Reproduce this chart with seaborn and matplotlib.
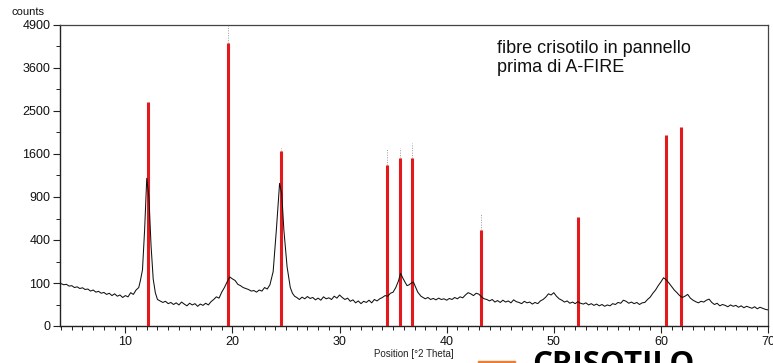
import numpy as np
import matplotlib
matplotlib.use("Agg")
import matplotlib.pyplot as plt
import seaborn as sns
from matplotlib.patches import Rectangle
from matplotlib.ticker import FixedLocator, MultipleLocator

# ---- data ----
pos = [3.9, 4.0, 4.25, 4.5, 4.75, 5.0, 5.25, 5.5, 5.75, 6.0, 6.25, 6.5, 6.75, 7.0, 7.25,
       7.5, 7.75, 8.0, 8.25, 8.5, 8.75, 9.0, 9.25, 9.5, 9.75, 10.0, 10.25, 10.5, 10.75,
       11.0, 11.25, 11.4, 11.6, 11.8, 12.0, 12.2, 12.4, 12.6, 12.8, 13.0, 13.25, 13.5,
       13.75, 14.0, 14.25, 14.5, 14.75, 15.0, 15.25, 15.5, 15.75, 16.0, 16.25, 16.5,
       16.75, 17.0, 17.25, 17.5, 17.75, 18.0, 18.25, 18.5, 18.75, 19.0, 19.25, 19.5,
       19.75, 20.0, 20.25, 20.5, 20.75, 21.0, 21.25, 21.5, 21.75, 22.0, 22.25, 22.5,
       22.75, 23.0, 23.25, 23.5, 23.8, 24.1, 24.4, 24.6, 24.8, 25.1, 25.4, 25.6, 25.8,
       26.0, 26.25, 26.5, 26.75, 27.0, 27.25, 27.5, 27.75, 28.0, 28.25, 28.5, 28.75,
       29.0, 29.25, 29.5, 29.75, 30.0, 30.25, 30.5, 30.75, 31.0, 31.25, 31.5, 31.75,
       32.0, 32.25, 32.5, 32.75, 33.0, 33.25, 33.5, 33.75, 34.0, 34.25, 34.5, 34.75,
       35.0, 35.25, 35.5, 35.7, 35.9, 36.1, 36.3, 36.5, 36.7, 36.9, 37.1, 37.3, 37.6,
       37.8, 38.0, 38.25, 38.5, 38.75, 39.0, 39.25, 39.5, 39.75, 40.0, 40.25, 40.5,
       40.75, 41.0, 41.25, 41.5, 41.75, 42.0, 42.25, 42.5, 42.75, 43.0, 43.25, 43.5,
       43.75, 44.0, 44.25, 44.5, 44.75, 45.0, 45.25, 45.5, 45.75, 46.0, 46.25, 46.5,
       46.75, 47.0, 47.25, 47.5, 47.75, 48.0, 48.25, 48.5, 48.75, 49.0, 49.25, 49.5,
       49.75, 50.0, 50.25, 50.5, 50.75, 51.0, 51.25, 51.5, 51.75, 52.0, 52.25, 52.5,
       52.75, 53.0, 53.25, 53.5, 53.75, 54.0, 54.25, 54.5, 54.75, 55.0, 55.25, 55.5,
       55.75, 56.0, 56.25, 56.5, 56.75, 57.0, 57.25, 57.5, 57.75, 58.0, 58.25, 58.5,
       58.75, 59.0, 59.25, 59.5, 59.75, 60.0, 60.25, 60.5, 60.75, 61.0, 61.25, 61.5,
       61.75, 62.0, 62.25, 62.5, 62.75, 63.0, 63.25, 63.5, 63.75, 64.0, 64.25, 64.5,
       64.75, 65.0, 65.25, 65.5, 65.75, 66.0, 66.25, 66.5, 66.75, 67.0, 67.25, 67.5,
       67.75, 68.0, 68.25, 68.5, 68.75, 69.0, 69.25, 69.5, 69.75, 70.0]
counts = [100, 97, 92, 94, 86, 88, 80, 83, 76, 79, 72, 74, 66, 70, 62,
          65, 58, 61, 54, 58, 50, 56, 48, 52, 44, 50, 46, 60, 54,
          70, 80, 110, 170, 500, 1180, 900, 350, 120, 60, 38, 34, 30,
          33, 27, 30, 25, 29, 24, 31, 26, 22, 28, 24, 27,
          21, 26, 23, 28, 24, 32, 38, 46, 42, 62, 80, 105,
          130, 120, 112, 94, 88, 80, 76, 72, 66, 68, 62, 70,
          66, 80, 74, 92, 160, 500, 1100, 950, 500, 190, 80, 58, 48,
          44, 38, 45, 40, 47, 41, 44, 37, 42, 36, 46, 40,
          43, 38, 48, 42, 52, 44, 38, 42, 33, 37, 29, 34,
          27, 33, 30, 36, 29, 38, 34, 40, 44, 50, 48, 58,
          62, 80, 110, 150, 125, 105, 88, 92, 100, 104, 82, 62, 48,
          44, 40, 44, 38, 41, 37, 42, 38, 40, 36, 41, 38,
          44, 40, 46, 43, 52, 60, 56, 50, 58, 55, 46, 40,
          38, 34, 38, 31, 35, 30, 36, 31, 34, 29, 37, 32,
          30, 27, 33, 29, 31, 26, 30, 27, 34, 38, 45, 56,
          52, 60, 48, 40, 36, 31, 34, 28, 31, 27, 32, 28,
          26, 29, 24, 27, 23, 26, 22, 25, 21, 24, 22, 27,
          25, 30, 28, 36, 33, 28, 31, 27, 30, 25, 29, 30,
          38, 45, 58, 70, 88, 105, 126, 115, 100, 84, 70, 60,
          50, 44, 48, 54, 42, 36, 32, 29, 33, 31, 36, 39,
          30, 25, 28, 22, 25, 23, 20, 24, 21, 23, 19, 22,
          18, 21, 19, 17, 20, 16, 19, 17, 15, 14]

ref_pos = [12.1, 19.6, 24.5, 34.4, 35.6, 36.8, 43.2, 52.3, 60.5, 61.9]
ref_int = [2714, 4330, 1650, 1400, 1527, 1527, 498, 642, 1972, 2142]

dot_pos = [19.6, 24.5, 34.4, 35.6, 36.8, 43.2]
dot_top = [4900, 1714, 1714, 1714, 1812, 690]

y_ticks = [0, 100, 400, 900, 1600, 2500, 3600, 4900]
y_minor = [25, 225, 625, 1225, 2025, 3025, 4225]
x_ticks = [10, 20, 30, 40, 50, 60, 70]

title_text = "fibre crisotilo in pannello\nprima di A-FIRE"
x_label = "Position [°2 Theta]"
y_label = "counts"
bottom_text = "CRISOTILO"

# ---- figure ----
sns.set_style("white")
plt.rcParams["font.family"] = ["Liberation Sans", "DejaVu Sans"]

fig = plt.figure(figsize=(7.73, 3.63), dpi=100)
ax = fig.add_axes([60 / 773, 1 - 326 / 363, 708 / 773, 301 / 363])

fwd = lambda v: np.sqrt(np.clip(v, 0, None))
inv = lambda v: np.square(v)
ax.set_yscale("function", functions=(fwd, inv))

ax.vlines(ref_pos, 0, ref_int, colors="#e3191c", linewidth=2.2, zorder=3)
ref_map = dict(zip(ref_pos, ref_int))
for p, t in zip(dot_pos, dot_top):
    ax.vlines(p, ref_map[p], t, colors="#999999", linewidth=0.7,
              linestyles=(0, (1, 1.5)), zorder=2)

sns.lineplot(x=pos, y=counts, ax=ax, color="#111111", linewidth=0.75, zorder=4)

ax.set_xlim(3.9, 70)
ax.set_ylim(0, 4900)
ax.yaxis.set_major_locator(FixedLocator(y_ticks))
ax.yaxis.set_minor_locator(FixedLocator(y_minor))
ax.set_yticklabels([str(t) for t in y_ticks])
ax.xaxis.set_major_locator(FixedLocator(x_ticks))
ax.xaxis.set_minor_locator(MultipleLocator(1))
ax.set_xticklabels([str(t) for t in x_ticks])

ax.tick_params(axis="both", which="major", direction="out", length=5, width=0.8,
               labelsize=9, color="#222222", labelcolor="#111111", pad=2,
               bottom=True, left=True)
ax.tick_params(axis="both", which="minor", direction="out", length=3, width=0.7,
               color="#222222", bottom=True, left=True)

for s in ["left", "bottom"]:
    ax.spines[s].set_color("#222222")
    ax.spines[s].set_linewidth(1.0)
for s in ["top", "right"]:
    ax.spines[s].set_color("#444444")
    ax.spines[s].set_linewidth(0.9)

ax.set_xlabel(x_label, fontsize=7, labelpad=1, color="#222222")
ax.set_ylabel("")
fig.text(12 / 773, 1 - 12 / 363, y_label, fontsize=8, va="center", ha="left",
         color="#111111")

fig.text(497 / 773, 1 - 40 / 363, title_text, fontsize=13, va="top", ha="left",
         color="#111111", linespacing=1.15)

fig.text(532 / 773, 1 - 350 / 363, bottom_text, fontsize=22.5, fontweight="bold",
         va="top", ha="left", color="#000000", family=["Open Sans", "DejaVu Sans"])
fig.patches.append(Rectangle((478 / 773, 0), 37 / 773, 2 / 363,
                             transform=fig.transFigure, color="#ED7D31"))

fig.savefig("out.png", dpi=100)
